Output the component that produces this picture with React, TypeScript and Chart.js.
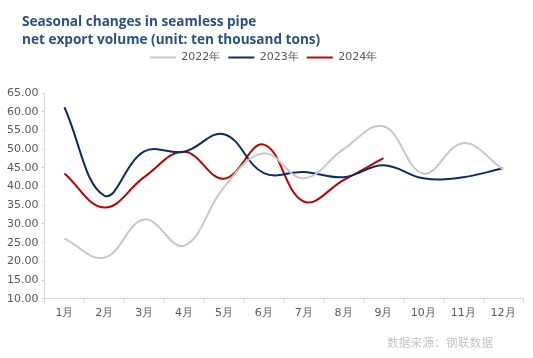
import React, { useEffect, useRef } from "react";
import { Chart, registerables } from "chart.js";

Chart.register(...registerables);

const months = ["1月", "2月", "3月", "4月", "5月", "6月", "7月", "8月", "9月", "10月", "11月", "12月"];
const series2022 = [26.1, 21.0, 31.2, 24.2, 39.8, 48.9, 42.2, 50.0, 56.1, 43.5, 51.6, 44.6];
const series2023 = [61.2, 37.6, 49.4, 49.3, 54.0, 43.6, 43.9, 42.5, 45.7, 42.2, 42.5, 44.9];
const series2024 = [43.5, 34.4, 42.5, 49.3, 42.1, 51.2, 36.0, 41.7, 47.6];

const titleLines = ["Seasonal changes in seamless pipe", "net export volume (unit: ten thousand tons)"];
const sourceText = "数据来源：钢联数据";

const legendSpacer = {
  id: "legendSpacer",
  beforeInit(chart: any) {
    const orig = chart.legend.fit;
    chart.legend.fit = function () {
      orig.bind(this)();
      this.height += 20;
    };
  },
};

export default function App() {
  const ref = useRef<HTMLCanvasElement | null>(null);
  useEffect(() => {
    if (!ref.current) return;
    const chart = new Chart(ref.current, {
      type: "line",
      data: {
        labels: months,
        datasets: [
          { label: "2022年", data: series2022, borderColor: "#c8c8c8", backgroundColor: "#c8c8c8", borderWidth: 2, pointRadius: 0, tension: 0.4 },
          { label: "2023年", data: series2023, borderColor: "#0d2a6c", backgroundColor: "#0d2a6c", borderWidth: 2, pointRadius: 0, tension: 0.4 },
          { label: "2024年", data: series2024, borderColor: "#c00000", backgroundColor: "#c00000", borderWidth: 2, pointRadius: 0, tension: 0.4 },
        ],
      },
      plugins: [legendSpacer],
      options: {
        animation: false,
        responsive: false,
        maintainAspectRatio: false,
        layout: { padding: { top: 44, left: 4, right: 10, bottom: 34 } },
        plugins: {
          title: { display: false },
          tooltip: { enabled: false },
          legend: {
            display: true,
            position: "top",
            labels: {
              usePointStyle: true,
              pointStyle: "line",
              pointStyleWidth: 26,
              boxWidth: 26,
              boxHeight: 2,
              color: "#595959",
              font: { family: "'DejaVu Sans', sans-serif", size: 11 },
              padding: 8,
            },
          },
        },
        scales: {
          x: {
            offset: true,
            grid: { display: true, drawOnChartArea: false, drawTicks: true, tickLength: 4, color: "#d9d9d9", offset: true },
            border: { display: true, color: "#d9d9d9" },
            ticks: { color: "#595959", font: { family: "'DejaVu Sans', sans-serif", size: 11 }, padding: 4, maxRotation: 0 },
          },
          y: {
            min: 10,
            max: 65,
            grid: { display: true, drawOnChartArea: false, drawTicks: true, tickLength: 3, color: "#d9d9d9" },
            border: { display: true, color: "#d9d9d9" },
            ticks: {
              stepSize: 5,
              color: "#595959",
              font: { family: "'DejaVu Sans', sans-serif", size: 11 },
              padding: 3,
              callback: (v: any) => Number(v).toFixed(2),
            },
          },
        },
      },
    });
    return () => chart.destroy();
  }, []);

  return (
    <div style={{ position: "absolute", left: 0, top: 0, width: 533, height: 358, background: "#fff" }}>
      <canvas ref={ref} width={533} height={358} style={{ position: "absolute", left: 0, top: 0 }} />
      <div
        style={{
          position: "absolute",
          left: 22,
          top: 12,
          fontFamily: "'Open Sans', sans-serif",
          fontWeight: 700,
          fontSize: 13.6,
          lineHeight: "18px",
          color: "#2b4f8e",
          whiteSpace: "nowrap",
        }}
      >
        {titleLines.map((t) => (
          <div key={t}>{t}</div>
        ))}
      </div>
      <div
        style={{
          position: "absolute",
          left: 387,
          top: 334,
          fontFamily: "'Noto Sans CJK SC', sans-serif",
          fontSize: 11.5,
          letterSpacing: 0.3,
          color: "#c4c4c4",
          whiteSpace: "nowrap",
        }}
      >
        {sourceText}
      </div>
    </div>
  );
}
